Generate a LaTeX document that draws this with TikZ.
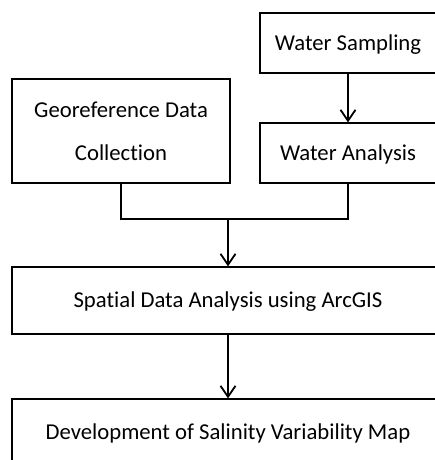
\documentclass[tikz,border=0pt]{standalone}
\usepackage{fontspec}
\setmainfont[Ligatures=NoCommon]{Carlito}
\usetikzlibrary{arrows.meta}
\begin{document}
\begin{tikzpicture}[x=1pt,y=-1pt,
  box/.style={draw=black, line width=1.2pt, rectangle, inner sep=0pt,
    font=\fontsize{22.7pt}{43pt}\selectfont, text height=14.6pt, text depth=0pt},
  conn/.style={draw=black, line width=1.8pt, line join=miter},
  arr/.style={conn, -{Straight Barb[length=11pt,width=15pt]}}]
\useasboundingbox (0,0) rectangle (435,460);
\clip (0,0) rectangle (435,460);
\fill[white] (0,0) rectangle (435,460);
\node[box, minimum width=176pt, minimum height=60pt] (ws) at (348,43) {Water Sampling};
\node[box, minimum width=176pt, minimum height=60pt] (wa) at (348,153) {Water Analysis};
\node[box, minimum width=218pt, minimum height=104pt, align=center,
      text height={}, text depth={}] (geo) at (121,131) {Georeference Data\\Collection};
\node[box, minimum width=432pt, minimum height=67pt] (sp) at (228,300.5) {Spatial Data Analysis using ArcGIS};
\node[box, minimum width=432pt, minimum height=67pt] (dev) at (228,432.5) {Development of Salinity Variability Map};
\coordinate (j) at (sp.north |- 0,219);
\draw[arr] (ws.south) -- (wa.north);
\draw[conn] (geo.south) |- (j) -| (wa.south);
\draw[arr] (j) -- (sp.north);
\draw[arr] (sp.south) -- (dev.north);
\end{tikzpicture}
\end{document}
